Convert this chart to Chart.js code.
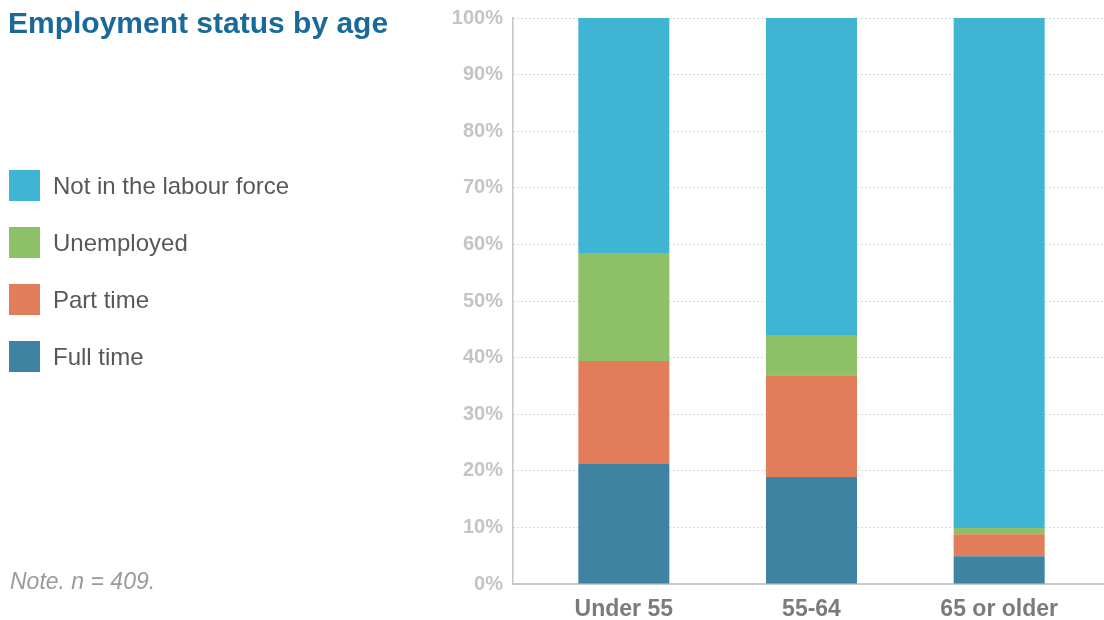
<!DOCTYPE html>
<html>
<head>
<meta charset="utf-8">
<title>Employment status by age</title>
<script src="https://cdn.jsdelivr.net/npm/chart.js"></script>
<style>
  body { margin: 0; background: #fff; font-family: 'Liberation Sans', Arial, sans-serif; }
  #wrap { position: relative; width: 1104px; height: 620px; overflow: hidden; }
  #myChart { position: absolute; left: 0; top: 0; }
  h1 { position: absolute; left: 8px; top: 8px; margin: 0; font-size: 30px; line-height: 30px; font-weight: bold; color: #19699a; white-space: nowrap; }
  #legend { position: absolute; left: 9px; top: 170px; margin: 0; padding: 0; list-style: none; }
  #legend li { display: flex; align-items: center; height: 31px; margin-bottom: 26px; font-size: 24px; color: #585858; white-space: nowrap; }
  #legend span { display: inline-block; width: 31px; height: 31px; margin-right: 13px; }
  .note { position: absolute; left: 10px; top: 570px; margin: 0; font-size: 23px; line-height: 23px; font-style: italic; color: #9a9a9a; }
</style>
</head>
<body>
<div id="wrap">
  <canvas id="myChart" width="1104" height="620"></canvas>
  <h1>Employment status by age</h1>
  <ul id="legend"></ul>
  <p class="note">Note. n = 409.</p>
</div>
<script>
// age groups and share of each employment status (%)
const ageGroups = ['Under 55', '55-64', '65 or older'];
const fullTime = [21.2, 18.9, 4.9];
const partTime = [18.2, 18.0, 3.9];
const unemployed = [19.1, 7.1, 1.1];
const notInLabourForce = [41.5, 56.0, 90.1];
const yTicks = [0, 10, 20, 30, 40, 50, 60, 70, 80, 90, 100];

const ctx = document.getElementById('myChart');

Chart.defaults.font.family = "'Liberation Sans', Arial, sans-serif";

// the category band starts a little right of the y axis line
const shiftCategories = {
  id: 'shiftCategories',
  afterLayout(chart) {
    const x = chart.scales.x;
    x._startPixel = x.left + 17;
    x._endPixel = x.right - 11;
    x._length = x._endPixel - x._startPixel;
  }
};

const chart = new Chart(ctx, {
  type: 'bar',
  data: {
    labels: ageGroups,
    datasets: [
      { label: 'Full time', data: fullTime, backgroundColor: '#3f83a3' },
      { label: 'Part time', data: partTime, backgroundColor: '#e17d5a' },
      { label: 'Unemployed', data: unemployed, backgroundColor: '#8ec067' },
      { label: 'Not in the labour force', data: notInLabourForce, backgroundColor: '#40b5d3' }
    ]
  },
  options: {
    responsive: false,
    animation: false,
    devicePixelRatio: 1,
    layout: { padding: { top: 18, right: 0, left: 0, bottom: 0 } },
    datasets: {
      bar: { barPercentage: 1, categoryPercentage: 0.485, borderWidth: 0 }
    },
    plugins: {
      legend: { display: false },
      tooltip: { enabled: false }
    },
    scales: {
      x: {
        stacked: true,
        grid: { display: false, drawTicks: false, tickLength: 0 },
        border: { display: true, color: '#c9c9c9', width: 2 },
        ticks: { color: '#7b7b7b', padding: 12, font: { size: 23, weight: 'bold' } },
        afterFit: (scale) => { scale.height = 36; scale.paddingLeft = 0; scale.paddingRight = 0; }
      },
      y: {
        stacked: true,
        min: 0,
        max: 100,
        z: 1,
        afterBuildTicks: (scale) => { scale.ticks = yTicks.map(v => ({ value: v })); },
        afterFit: (scale) => { scale.width = 513; scale.paddingTop = 0; scale.paddingBottom = 0; },
        grid: { color: 'rgba(120,120,120,0.55)', lineWidth: 1, drawTicks: false, tickLength: 0 },
        border: { display: true, color: '#c4c4c4', width: 1.5, dash: [1, 3] },
        ticks: {
          color: '#c4c4c4',
          padding: 10,
          font: { size: 20, weight: 'bold' },
          callback: (v) => v + '%'
        }
      }
    }
  },
  plugins: [shiftCategories]
});

// legend, top series first
const legend = document.getElementById('legend');
chart.data.datasets.slice().reverse().forEach(ds => {
  const li = document.createElement('li');
  const box = document.createElement('span');
  box.style.background = ds.backgroundColor;
  li.appendChild(box);
  li.appendChild(document.createTextNode(ds.label));
  legend.appendChild(li);
});
</script>
</body>
</html>
